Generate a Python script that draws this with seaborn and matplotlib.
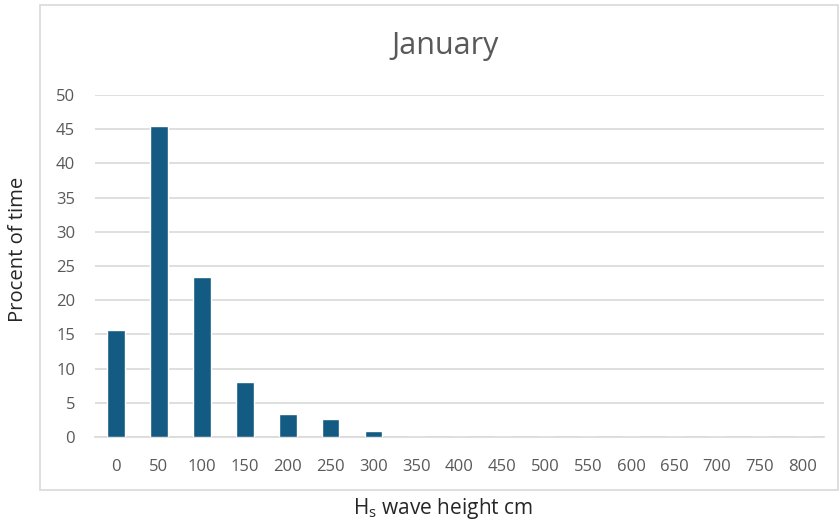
import matplotlib
matplotlib.use("Agg")
import matplotlib.pyplot as plt
import seaborn as sns
import pandas as pd
from matplotlib.patches import Rectangle

# wave height classes (cm) and share of time (%)
heights = ["0", "50", "100", "150", "200", "250", "300", "350", "400",
           "450", "500", "550", "600", "650", "700", "750", "800"]
percent = [15.6, 45.5, 23.4, 8.05, 3.3, 2.6, 0.85, 0, 0,
           0, 0, 0, 0, 0, 0, 0, 0]

df = pd.DataFrame({"height": heights, "percent": percent})

sns.set_theme(style="white")
plt.rcParams["font.family"] = ["Open Sans", "DejaVu Sans"]

text_col = "#595959"
grid_col = "#D9D9D9"
bar_col = "#135B82"

fig = plt.figure(figsize=(8.4, 5.27), dpi=100)
ax = fig.add_axes([0.1125, 0.1708, 0.869, 0.649])

sns.barplot(data=df, x="height", y="percent", color=bar_col,
            width=0.41, saturation=1, ax=ax, zorder=3)

ax.set_ylim(0, 50)
ax.set_yticks(range(0, 51, 5))
ax.set_xlim(-0.5, len(heights) - 0.5)
ax.yaxis.grid(True, color=grid_col, linewidth=1.2, zorder=0)
ax.xaxis.grid(False)
for s in ax.spines.values():
    s.set_visible(False)
ax.spines["bottom"].set_visible(True)
ax.spines["bottom"].set_color(grid_col)
ax.spines["bottom"].set_linewidth(1.2)
ax.tick_params(axis="both", length=0, labelsize=12, labelcolor=text_col)
ax.tick_params(axis="x", pad=16)
ax.tick_params(axis="y", pad=14)

ax.set_xlabel("")
ax.set_ylabel("")
fig.text(0.53, 0.912, "January", ha="center", va="center",
         fontsize=22, color=text_col)
fig.text(0.527, 0.036, r"$\mathregular{H_s}$ wave height cm", ha="center",
         va="center", fontsize=15, color="#262626")
fig.text(0.021, 0.526, "Procent of time", ha="center", va="center",
         rotation=90, fontsize=14.6, color="#262626")

# outer chart border
fig.patches.append(Rectangle((40 / 840, 1 - 490 / 527), 798 / 840, 485 / 527,
                             transform=fig.transFigure, fill=False,
                             edgecolor=grid_col, linewidth=1.2))

fig.savefig("out.png", dpi=100)
plt.close(fig)
